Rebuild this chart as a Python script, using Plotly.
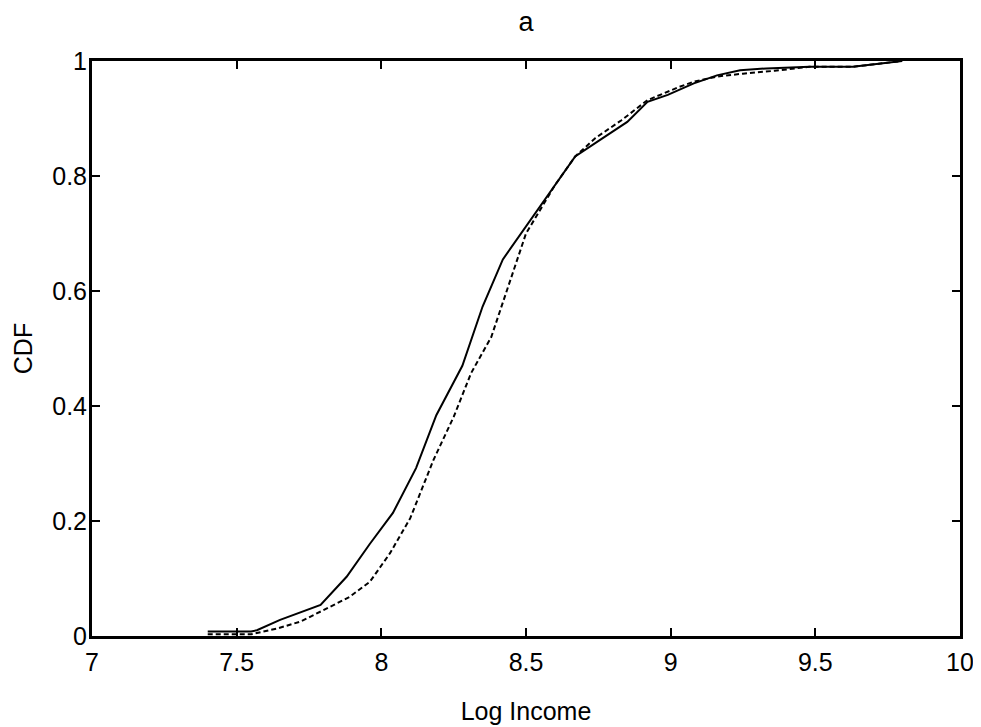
import plotly.graph_objects as go

# Solid curve
solid_x = [7.40, 7.55, 7.57, 7.65, 7.79, 7.88, 7.96, 8.04, 8.12, 8.19, 8.28, 8.35, 8.42,
           8.51, 8.59, 8.67, 8.76, 8.85, 8.92, 8.99, 9.08, 9.16, 9.24, 9.33, 9.48, 9.63, 9.80]
solid_y = [0.008, 0.008, 0.010, 0.028, 0.054, 0.103, 0.160, 0.214, 0.292, 0.384, 0.470, 0.573, 0.655,
           0.720, 0.778, 0.834, 0.864, 0.894, 0.929, 0.941, 0.961, 0.975, 0.984, 0.987, 0.990, 0.990, 1.000]

# Dashed curve
dash_x = [7.40, 7.55, 7.64, 7.72, 7.80, 7.89, 7.96, 8.03, 8.10, 8.18, 8.25, 8.31, 8.38, 8.44,
          8.50, 8.60, 8.67, 8.74, 8.83, 8.92, 9.03, 9.08, 9.16, 9.25, 9.36, 9.48, 9.63, 9.80]
dash_y = [0.003, 0.003, 0.013, 0.025, 0.045, 0.068, 0.094, 0.144, 0.205, 0.306, 0.381, 0.457, 0.520, 0.610,
          0.700, 0.784, 0.834, 0.866, 0.897, 0.932, 0.955, 0.964, 0.973, 0.978, 0.983, 0.990, 0.990, 1.000]

title_text = "a"
x_label = "Log Income"
y_label = "CDF"

FONT = "Liberation Sans, Arial, sans-serif"
FS = 25

# page has an 8px body margin; shrink the figure to compensate
W, H = 973, 719

fig = go.Figure()
fig.add_trace(go.Scatter(x=solid_x, y=solid_y, mode="lines",
                         line=dict(color="black", width=2), showlegend=False))
fig.add_trace(go.Scatter(x=dash_x, y=dash_y, mode="lines", yaxis="y2",
                         line=dict(color="black", width=2, dash="5px,3px"), showlegend=False))

axis_common = dict(
    showgrid=False, zeroline=False, showline=True, linecolor="black", linewidth=2.5,
    mirror="ticks", ticks="inside", ticklen=8, tickwidth=2, tickcolor="black",
    tickfont=dict(family=FONT, size=FS, color="black"), ticklabeloverflow="allow",
)

fig.update_layout(
    width=W, height=H,
    paper_bgcolor="white", plot_bgcolor="white",
    margin=dict(l=84, r=21, t=53, b=91, autoexpand=False),
    font=dict(family=FONT, size=FS, color="black"),
    title=dict(text=title_text, x=0.5, xref="paper", xanchor="center",
               y=1 - 14 / H, yref="container", yanchor="middle",
               font=dict(family=FONT, size=27, color="black")),
    xaxis=dict(range=[7, 10], dtick=0.5, tick0=7, ticklabelstandoff=2,
               title=dict(text=x_label, standoff=28, font=dict(family=FONT, size=FS)),
               automargin=False, **axis_common),
    # frame + inside ticks, no labels
    yaxis=dict(range=[0, 1], dtick=0.2, tick0=0, showticklabels=False,
               automargin=False, **axis_common),
    # labels + title only (same scale, overlaid)
    yaxis2=dict(range=[0, 1], dtick=0.2, tick0=0, overlaying="y", side="left", anchor="x",
                showgrid=False, zeroline=False, showline=False, ticks="",
                tickfont=dict(family=FONT, size=FS, color="black"),
                ticklabelstandoff=4, automargin=False,
                title=dict(text=y_label, standoff=12, font=dict(family=FONT, size=FS))),
)

fig.write_html("out.html")
